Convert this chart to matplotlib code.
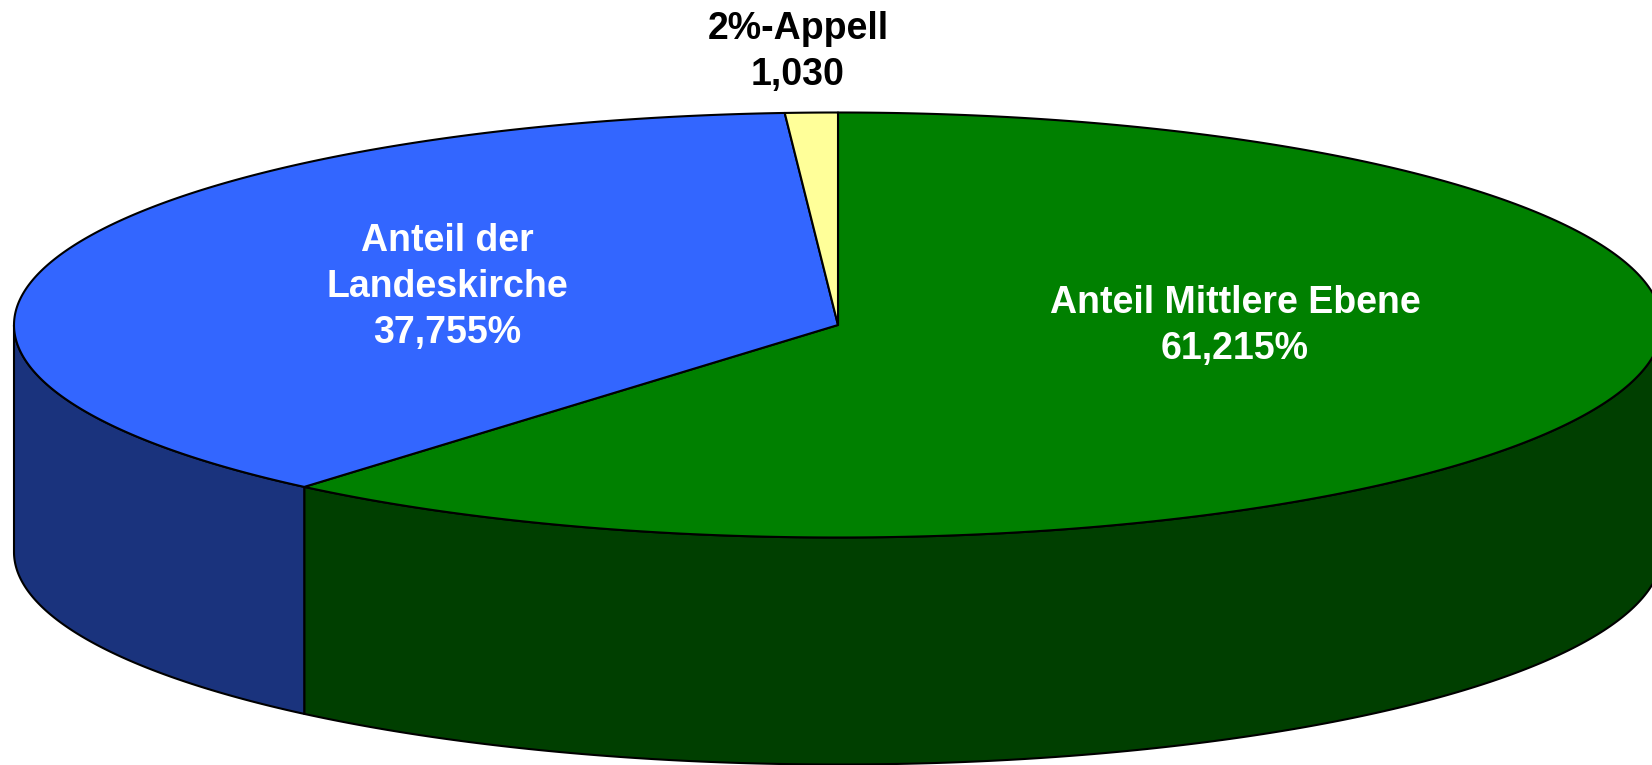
'''
3D pie chart: Anteile
'''

import numpy as np
import matplotlib.pyplot as plt
from matplotlib.patches import Polygon

# Data
labels = ["Anteil Mittlere Ebene", "Anteil der\nLandeskirche", "2%-Appell"]
values = [61.215, 37.755, 1.030]
value_text = ["61,215%", "37,755%", "1,030"]

top_colors = ["#008000", "#3366FF", "#FFFF99"]
side_colors = ["#003F00", "#1A337D", "#7F7F4C"]
text_colors = ["white", "white", "black"]
label_xy = [(1235, 326), (447, 287), (798, 52)]

# Geometry (pixels)
W, H = 1652, 765
cx, cy = 838, 325
rx, ry = 824, 212.5
depth = 227


def ell(t, dy=0):
    t = np.radians(t)
    return np.column_stack([cx + rx * np.cos(t), cy - ry * np.sin(t) + dy])


fig = plt.figure(figsize=(W / 100, H / 100), dpi=100)
ax = fig.add_axes([0, 0, 1, 1])
ax.set_xlim(0, W)
ax.set_ylim(H, 0)
ax.axis("off")

# slice angles, start at 12 o'clock, clockwise
fracs = np.array(values) / sum(values) * 360
starts = 90 - np.concatenate([[0], np.cumsum(fracs)[:-1]])
ends = starts - fracs

# side walls (front half only, angles -180..0)
for s, e, col in zip(starts, ends, side_colors):
    a0, a1 = max(e, -180), min(s, 0)
    if a1 <= a0:
        continue
    t = np.linspace(a0, a1, 200)
    pts = np.vstack([ell(t), ell(t[::-1], depth)])
    ax.add_patch(Polygon(pts, closed=True, facecolor=col, edgecolor="black", lw=1.5, joinstyle="round"))

# top faces
for s, e, col in zip(starts, ends, top_colors):
    t = np.linspace(s, e, 300)
    pts = np.vstack([[cx, cy], ell(t)])
    ax.add_patch(Polygon(pts, closed=True, facecolor=col, edgecolor="black", lw=1.5, joinstyle="round"))

# labels
for lab, vt, (x, y), tc in zip(labels, value_text, label_xy, text_colors):
    ax.text(x, y, lab + "\n" + vt, ha="center", va="center", color=tc,
            fontsize=27, fontweight="bold", family="Liberation Sans", linespacing=1.37)

fig.savefig("out.png", dpi=100)
